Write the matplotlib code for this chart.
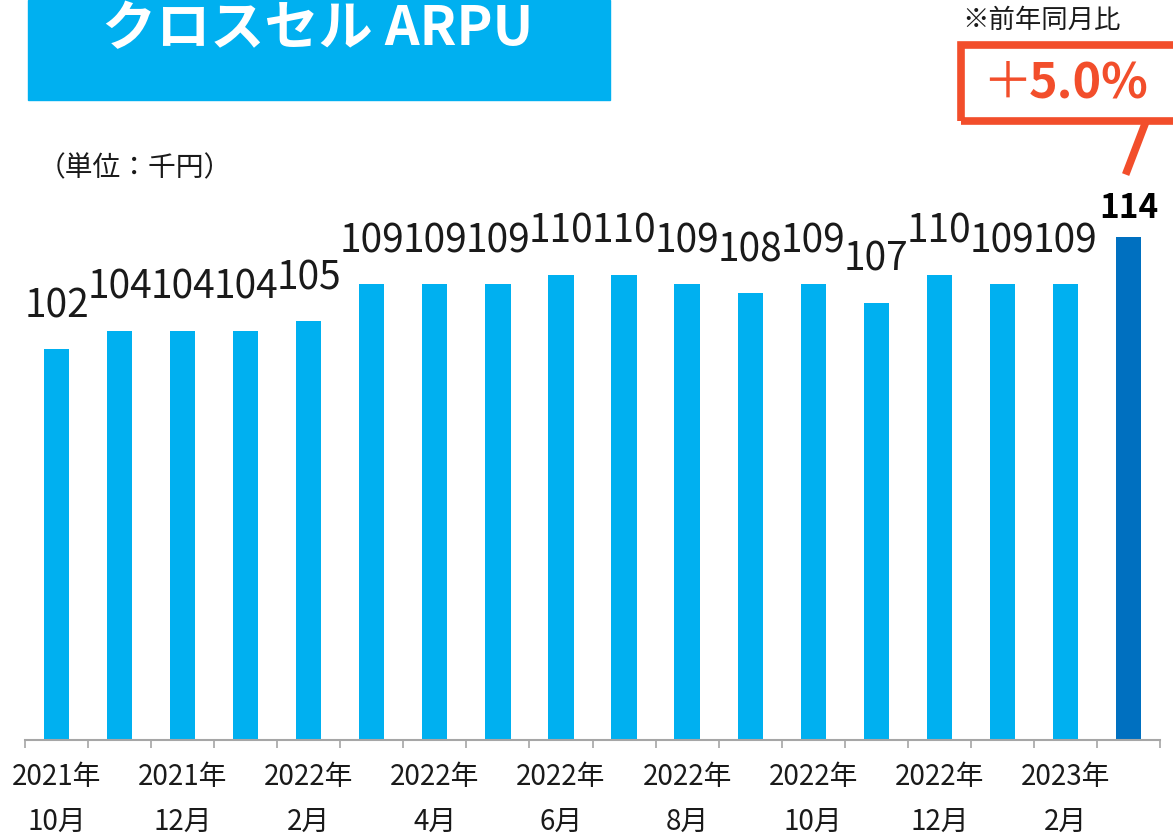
import matplotlib.pyplot as plt
from matplotlib import font_manager
from matplotlib.patches import Rectangle
from matplotlib.lines import Line2D

# data (thousand yen)
months = ['2021年\n10月', '', '2021年\n12月', '', '2022年\n2月', '', '2022年\n4月', '',
          '2022年\n6月', '', '2022年\n8月', '', '2022年\n10月', '', '2022年\n12月', '',
          '2023年\n2月', '']
arpu = [102, 104, 104, 104, 105, 109, 109, 109, 110, 110, 109, 108, 109, 107, 110, 109, 109, 114]
yoy_text = '5.0%'

names = {f.name for f in font_manager.fontManager.ttflist}
narrow = 'Liberation Sans Narrow' if 'Liberation Sans Narrow' in names else 'Noto Sans CJK JP'
plt.rcParams['font.family'] = [narrow, 'Noto Sans CJK JP', 'DejaVu Sans']

W, H = 1173, 839
LIGHT = '#00B0F0'
DARK = '#0070C0'
RED = '#F24E2B'
TXT = '#1A1A1A'

fig = plt.figure(figsize=(W / 100, H / 100), dpi=100)
ax = fig.add_axes([25 / W, 99 / H, 1135 / W, 560 / H])

x = list(range(len(arpu)))
colors = [LIGHT] * (len(arpu) - 1) + [DARK]
ax.bar(x, arpu, width=0.4, color=colors, zorder=2)
ax.set_xlim(-0.5, len(arpu) - 0.5)
ax.set_ylim(60.3, 120.1)

for i, v in enumerate(arpu):
    if i == len(arpu) - 1:
        ax.annotate(str(v), (i, v), xytext=(0, 14), textcoords='offset points',
                    ha='center', va='baseline', fontsize=24, fontweight='bold',
                    family='Noto Sans CJK JP', color='black')
    else:
        ax.annotate(str(v), (i, v), xytext=(0, 23), textcoords='offset points',
                    ha='center', va='baseline', fontsize=28, color=TXT)

for s in ['top', 'right', 'left']:
    ax.spines[s].set_visible(False)
ax.spines['bottom'].set_color('#A6A6A6')
ax.spines['bottom'].set_linewidth(1.5)
ax.set_yticks([])
ax.set_xticks(x)
ax.set_xticklabels(months, fontsize=20, color=TXT, linespacing=1.65)
ax.set_xticks([i - 0.5 for i in range(len(arpu) + 1)], minor=True)
ax.tick_params(axis='x', which='major', length=0, pad=16)
ax.tick_params(axis='x', which='minor', length=6, width=1.2, color='#A6A6A6')

# title banner
fig.patches.append(Rectangle((28 / W, 1 - 100 / H), 582 / W, 100 / H,
                             transform=fig.transFigure, color=LIGHT, zorder=0))
fig.text(318 / W, 1 - 30 / H, 'クロスセル ARPU', ha='center', va='center',
         fontsize=39, fontweight='bold', color='white', family='Noto Sans CJK JP')

fig.text(38 / W, 1 - 168 / H, '（単位：千円）', ha='left', va='center',
         fontsize=20, color=TXT, family='Noto Sans CJK JP')
fig.text(962 / W, 1 - 20 / H, '※前年同月比', ha='left', va='center',
         fontsize=19, color=TXT, family='Noto Sans CJK JP')

# year-on-year callout
fig.patches.append(Rectangle((961 / W, 1 - 121 / H), 230 / W, 76 / H, transform=fig.transFigure,
                             fill=False, edgecolor=RED, linewidth=5.5, zorder=3))
fig.text(1007 / W, 1 - 84 / H, '＋', ha='center', va='center', fontsize=36,
         color=RED, family='Noto Sans CJK JP')
fig.text(1029 / W, 1 - 84 / H, yoy_text, ha='left', va='center', fontsize=35,
         fontweight='bold', color=RED, family='Noto Sans CJK JP')
fig.lines.append(Line2D([1145 / W, 1127 / W], [1 - 124 / H, 1 - 171 / H],
                        transform=fig.transFigure, color=RED, linewidth=5.5))

fig.savefig('out.png', dpi=100)
